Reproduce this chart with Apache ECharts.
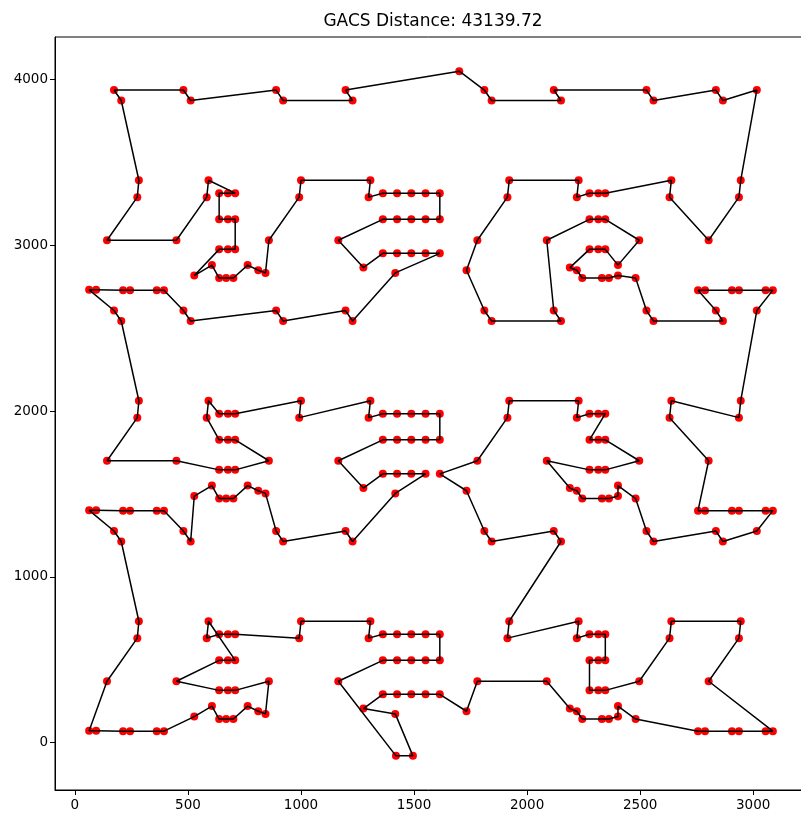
<!DOCTYPE html>
<html>
<head>
<meta charset="utf-8">
<script src="https://cdn.jsdelivr.net/npm/echarts@6/dist/echarts.min.js"></script>
<style>
html,body{margin:0;padding:0;background:#fff;}
#chart{width:801px;height:815px;}
</style>
</head>
<body>
<div id="chart"></div>
<script>
const titleText = "GACS Distance: 43139.72";
const xTicks = [0, 500, 1000, 1500, 2000, 2500, 3000];
const yTicks = [0, 1000, 2000, 3000, 4000];

// City coordinates in tour order
const tourX = [
173,480,512,890,921,1228,1197,1700,1811,1843,2150,2118,2528,2559,2835,2866,3016,2945,2937,2803,
2630,2638,2346,2315,2276,2220,2228,1921,1913,1780,1732,1811,1843,2150,2118,2087,2276,2315,2346,2496,
2402,2346,2315,2276,2189,2220,2244,2331,2362,2402,2480,2528,2559,2866,2835,2756,2787,2906,2937,3055,
3087,3016,2945,2937,2638,2630,2803,2756,2787,2906,2937,3055,3087,3016,2866,2835,2559,2528,2480,2402,
2402,2362,2331,2244,2220,2189,2087,2276,2315,2346,2496,2346,2315,2276,2346,2315,2276,2220,2228,1921,
1913,1780,1614,1732,1811,1843,2118,2150,1921,1913,2228,2220,2276,2315,2346,2346,2315,2276,2276,2315,
2346,2496,2630,2638,2945,2937,2803,3087,3055,2937,2906,2787,2756,2480,2402,2402,2362,2331,2244,2220,
2189,2087,1780,1732,1614,1551,1488,1425,1362,1276,1417,1495,1420,1165,1362,1425,1488,1551,1614,1614,
1551,1488,1425,1362,1299,1307,1000,992,709,677,638,583,591,709,677,638,449,638,677,709,
858,843,811,764,701,669,638,606,528,394,362,244,213,94,63,142,276,283,205,173,
63,94,213,244,362,394,480,512,528,606,638,669,701,764,811,843,890,921,1197,1228,
1417,1551,1488,1425,1362,1276,1165,1362,1425,1488,1551,1614,1614,1551,1488,1425,1362,1299,1307,992,
1000,709,677,638,591,583,638,677,709,858,709,677,638,449,142,276,283,205,173,63,
94,213,244,362,394,480,512,890,921,1197,1228,1417,1614,1551,1488,1425,1362,1276,1165,1362,
1425,1488,1551,1614,1614,1551,1488,1425,1362,1299,1307,1000,992,858,843,811,764,701,669,638,
606,528,638,677,709,709,677,638,638,677,709,591,583,449,142,276,283,205
];
const tourY = [
3936,3936,3873,3936,3873,3873,3936,4050,3936,3873,3873,3936,3936,3873,3936,3873,3936,3392,3290,3030,
3290,3392,3314,3314,3314,3290,3392,3392,3290,3030,2849,2606,2543,2543,2606,3030,3156,3156,3156,3030,
2880,2975,2975,2975,2865,2849,2802,2802,2802,2817,2802,2606,2543,2543,2606,2729,2729,2729,2729,2729,
2729,2606,2062,1960,2062,1960,1700,1399,1399,1399,1399,1399,1399,1276,1213,1276,1213,1276,1472,1550,
1487,1472,1472,1472,1519,1535,1700,1645,1645,1645,1700,1826,1826,1826,1984,1984,1984,1960,2062,2062,
1960,1700,1621,1519,1276,1213,1276,1213,732,630,732,630,654,654,654,496,496,496,315,315,
315,370,630,732,732,630,370,69,69,69,69,69,69,142,220,157,142,142,142,189,
205,370,370,189,291,291,291,291,291,205,173,-80,-80,370,496,496,496,496,496,654,
654,654,654,654,630,732,732,630,654,654,654,630,732,496,496,496,370,315,315,315,
370,173,189,220,142,142,142,220,157,69,69,69,69,71,71,370,630,732,1213,1276,
1401,1401,1399,1399,1399,1399,1276,1213,1487,1550,1472,1472,1472,1550,1519,1503,1276,1213,1276,1213,
1503,1621,1621,1621,1621,1535,1700,1826,1826,1826,1826,1826,1984,1984,1984,1984,1984,1960,2062,1960,
2062,1984,1984,1984,2062,1960,1826,1826,1826,1700,1645,1645,1645,1700,1700,1960,2062,2543,2606,2731,
2731,2729,2729,2729,2729,2606,2543,2606,2543,2606,2543,2833,2951,2951,2951,2951,2951,2865,3030,3156,
3156,3156,3156,3156,3314,3314,3314,3314,3314,3290,3392,3392,3290,3030,2833,2849,2880,2802,2802,2802,
2880,2817,2975,2975,2975,3156,3156,3156,3314,3314,3314,3392,3290,3030,3030,3290,3392,3873
];

const pts = tourX.map((x, i) => [x, tourY[i]]);
const closed = pts.concat([pts[0]]);

const chart = echarts.init(document.getElementById('chart'), null, {renderer: 'canvas'});
const font = 'DejaVu Sans';
const plain = v => String(v);
chart.setOption({
  backgroundColor: '#ffffff',
  animation: false,
  title: {
    text: titleText,
    left: 433,
    top: 13,
    textAlign: 'center',
    padding: 0,
    textStyle: {fontFamily: font, fontSize: 17, fontWeight: 'normal', color: '#000'}
  },
  grid: {
    left: 55, top: 37, width: 752, height: 753,
    show: true, borderColor: '#000', borderWidth: 1, backgroundColor: 'transparent',
    containLabel: false, outerBoundsMode: 'none'
  },
  xAxis: {
    type: 'value', min: -88, max: 3238,
    axisLine: {show: true, onZero: false, lineStyle: {color: '#000', width: 1}},
    axisTick: {show: true, length: 5, lineStyle: {color: '#000'}, customValues: xTicks},
    axisLabel: {color: '#000', fontFamily: font, fontSize: 13.5, margin: 8, customValues: xTicks, formatter: plain},
    splitLine: {show: false}
  },
  yAxis: {
    type: 'value', min: -286, max: 4256,
    axisLine: {show: true, onZero: false, lineStyle: {color: '#000', width: 1}},
    axisTick: {show: true, length: 5, lineStyle: {color: '#000'}, customValues: yTicks},
    axisLabel: {color: '#000', fontFamily: font, fontSize: 13.5, margin: 7, customValues: yTicks, formatter: plain},
    splitLine: {show: false}
  },
  series: [
    {
      type: 'scatter',
      data: pts,
      symbol: 'circle',
      symbolSize: 8,
      itemStyle: {color: '#ff0000', opacity: 1},
      z: 2
    },
    {
      type: 'line',
      data: closed,
      showSymbol: false,
      symbol: 'none',
      lineStyle: {color: '#000', width: 1.5},
      z: 3
    }
  ]
});
</script>
</body>
</html>
